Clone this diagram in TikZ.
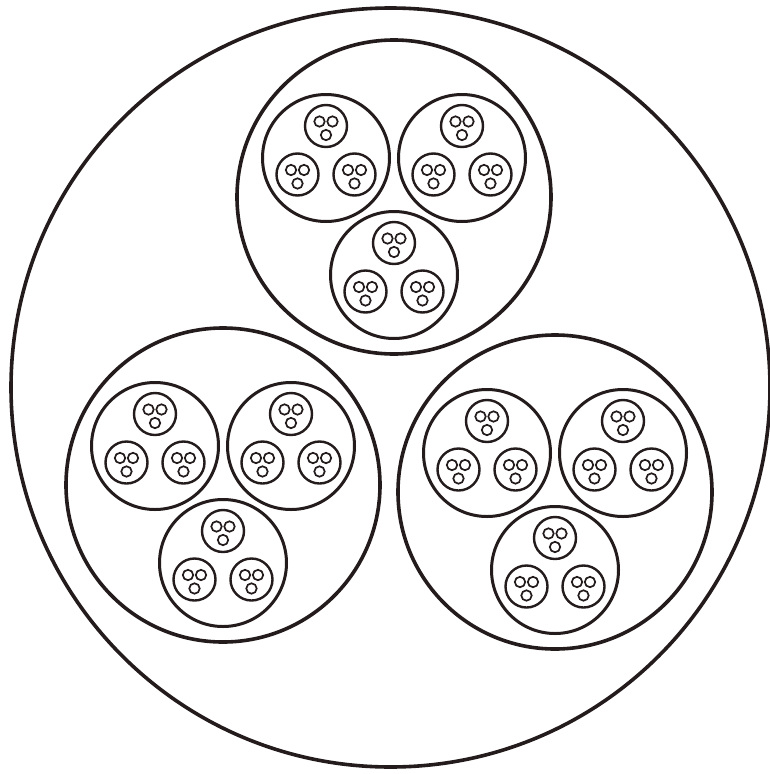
\documentclass[tikz,border=0pt]{standalone}
\definecolor{ink}{RGB}{36,28,28}
\tikzset{
  lone/.style={draw=ink,line width=3.6pt},
  ltwo/.style={draw=ink,line width=3.6pt},
  lthree/.style={draw=ink,line width=3pt},
  lfour/.style={draw=ink,line width=2.4pt},
  lfive/.style={draw=ink,line width=1.7pt}
}
\newcommand\LvFour[2]{%
  \draw[lfour] (#1,#2) circle[radius=21pt];
  \foreach \dx/\dy in {-6.5/-4.5,6.5/-4.5,0/9}
    \draw[lfive] ({#1+\dx},{#2+\dy}) circle[radius=5.2pt];
}
\newcommand\LvThree[2]{%
  \draw[lthree] (#1,#2) circle[radius=63.5pt];
  \LvFour{#1}{#2-32}
  \LvFour{#1-28.5}{#2+16.5}
  \LvFour{#1+28.5}{#2+16.5}
}
\newcommand\LvTwo[2]{%
  \draw[ltwo] (#1,#2) circle[radius=157pt];
  \LvThree{#1-68}{#2-39}
  \LvThree{#1+68}{#2-39}
  \LvThree{#1}{#2+78}
}
\begin{document}
\begin{tikzpicture}[x=1pt,y=-1pt]
  \useasboundingbox (0,0) rectangle (769,774);
  \fill[white] (0,0) rectangle (769,774);
  \draw[lone] (390.5,387.5) circle[radius=379.5pt];
  \LvTwo{394}{197}
  \LvTwo{223}{485}
  \LvTwo{555}{492}
\end{tikzpicture}
\end{document}
